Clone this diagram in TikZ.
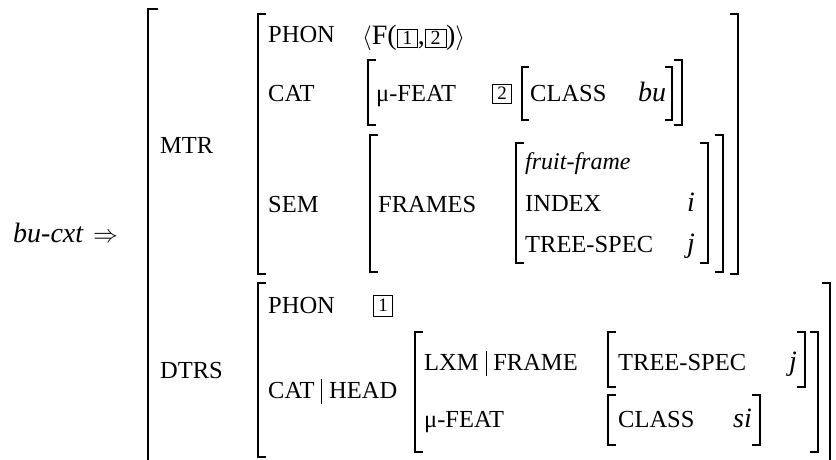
\documentclass[tikz,border=0pt]{standalone}
\usepackage{fontspec}
\setmainfont{Liberation Serif}
\usepackage{tikz}
\usetikzlibrary{positioning}
\newcommand{\tagbox}[1]{{\setlength{\fboxsep}{2.5pt}\setlength{\fboxrule}{0.6pt}\fbox{\makebox[15pt]{\fontsize{20}{20}\selectfont #1}}}}
\newcommand{\pathbar}{\hspace{7pt}\rule[-6pt]{0.7pt}{25pt}\hspace{7pt}}

\begin{document}
\begin{tikzpicture}[x=1pt, y=-1pt,
   brk/.style={line width=1.3pt},
   feat/.style={anchor=base west, inner sep=0pt, font=\fontsize{24.5}{24.5}\selectfont},
   val/.style={anchor=base west, inner sep=0pt, font=\fontsize{28}{28}\selectfont\itshape},
   tag/.style={draw, line width=0.6pt, inner sep=0pt, minimum width=19pt, minimum height=19pt, font=\fontsize{19}{19}\selectfont}]
   \useasboundingbox (0,0) rectangle (836,460);
   % left hand side
   \node[val] (lhs) at (13,242) {bu-cxt\hspace{10pt}\upshape$\Rightarrow$};
   % outer matrix
   \draw[brk] (158,9) -- (148,9) -- (148,470);
   \node[feat] (mtr) at (160,153) {MTR};
   \node[feat] (dtrs) at (160,378) {DTRS};
   % MTR value
   \draw[brk] (266,14) -- (258,14) -- (258,274) -- (266,274);
   \draw[brk] (730,14) -- (738,14) -- (738,274) -- (730,274);
   \node[feat] (phonA) at (268,43) {PHON};
   \node[anchor=base west, inner sep=0pt, font=\fontsize{28}{28}\selectfont] (phonval) at (362,45) {$\langle$F(\tagbox{1},\tagbox{2})$\rangle$};
   \node[feat] (catA) at (268,102) {CAT};
   \draw[brk] (376,60) -- (368,60) -- (368,125) -- (376,125);
   \draw[brk] (674,60) -- (682,60) -- (682,125) -- (674,125);
   \node[feat] (mfeatA) at (376,102) {μ-FEAT};
   \node[tag] (tagA) at (502,93.5) {2};
   \draw[brk] (529,67) -- (522,67) -- (522,120) -- (529,120);
   \draw[brk] (665,67) -- (672,67) -- (672,120) -- (665,120);
   \node[feat] (classA) at (530,102) {CLASS};
   \node[val] (buval) at (638,102) {bu};
   \node[feat] (semA) at (268,212) {SEM};
   \draw[brk] (378,135) -- (370,135) -- (370,272) -- (378,272);
   \draw[brk] (715,135) -- (723,135) -- (723,272) -- (715,272);
   \node[feat] (frames) at (378,212) {FRAMES};
   \draw[brk] (524,143) -- (516,143) -- (516,263) -- (524,263);
   \draw[brk] (700,143) -- (708,143) -- (708,263) -- (700,263);
   \node[val, font=\fontsize{24}{24}\selectfont\itshape] (ftype) at (525,169) {fruit-frame};
   \node[feat] (index) at (525,211) {INDEX};
   \node[val, anchor=base east] (ival) at (695,211) {i};
   \node[feat] (treespecA) at (525,252) {TREE-SPEC};
   \node[val, anchor=base east] (jvalA) at (695,252) {j};
   % DTRS value
   \draw[brk] (266,283) -- (258,283) -- (258,457) -- (266,457);
   \draw[brk] (822,283) -- (830,283) -- (830,470);
   \node[feat] (phonB) at (268,313) {PHON};
   \node[tag, minimum height=21pt] (tagB) at (383,305.5) {1};
   \node[feat] (cathead) at (268,398) {CAT\pathbar HEAD};
   \draw[brk] (423,332) -- (415,332) -- (415,452) -- (423,452);
   \draw[brk] (810,332) -- (818,332) -- (818,452) -- (810,452);
   \node[feat] (lxmframe) at (424,370) {LXM\pathbar FRAME};
   \draw[brk] (616,332) -- (608,332) -- (608,387) -- (616,387);
   \draw[brk] (797,332) -- (805,332) -- (805,387) -- (797,387);
   \node[feat] (treespecB) at (618,370) {TREE-SPEC};
   \node[val, anchor=base east] (jvalB) at (797,370) {j};
   \node[feat] (mfeatB) at (424,427) {μ-FEAT};
   \draw[brk] (616,395) -- (608,395) -- (608,445) -- (616,445);
   \draw[brk] (752,395) -- (760,395) -- (760,445) -- (752,445);
   \node[feat] (classB) at (618,427) {CLASS};
   \node[val, anchor=base east] (sival) at (752,427) {si};
\end{tikzpicture}
\end{document}
